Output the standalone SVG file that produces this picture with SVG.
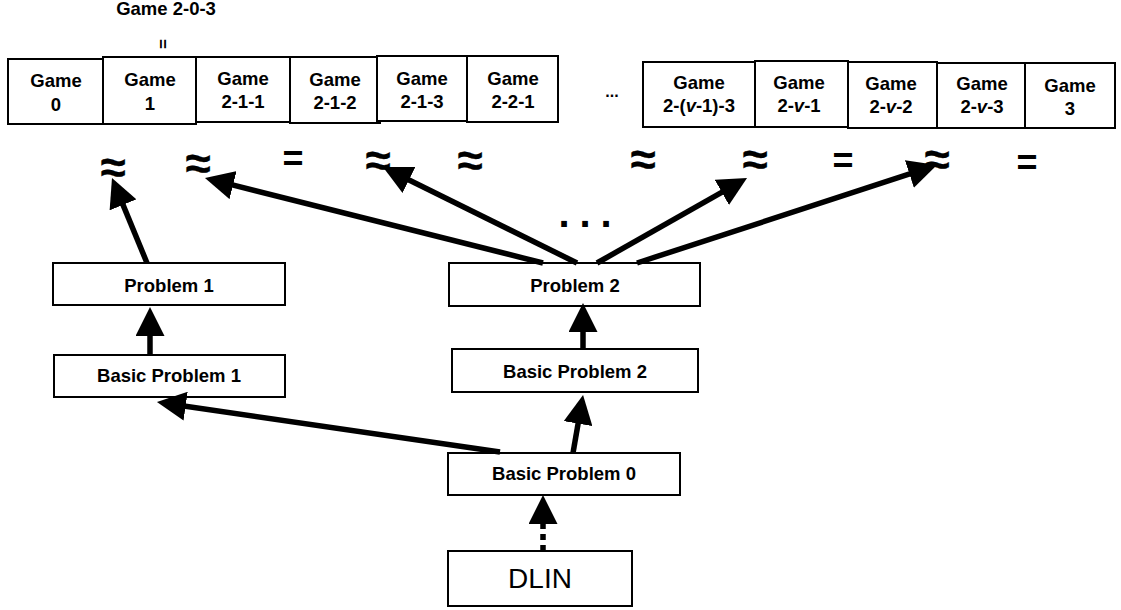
<svg xmlns="http://www.w3.org/2000/svg" width="1121" height="610" viewBox="0 0 1121 610">
<style>
.box{fill:#fff;stroke:#000;stroke-width:2}
.t{font-family:"Liberation Sans",Arial,sans-serif;font-weight:bold;font-size:18.5px;text-anchor:middle;fill:#000}
.ap{font-family:"Liberation Sans",Arial,sans-serif;font-weight:bold;font-size:46px;text-anchor:middle;fill:#000;stroke:#000;stroke-width:0.3}
.eq{font-family:"Liberation Sans",Arial,sans-serif;font-weight:bold;font-size:36px;text-anchor:middle;fill:#000}
.arr{stroke:#000;stroke-width:5.5;fill:none;marker-end:url(#ah)}
.dot{stroke:#000;stroke-width:5.5;fill:none;stroke-dasharray:6 5;marker-end:url(#ah)}
</style>
<defs>
<marker id="ah" markerUnits="userSpaceOnUse" markerWidth="29" markerHeight="29" viewBox="0 0 29 29" refX="14" refY="14.5" orient="auto">
<path d="M0,0 L29,14.5 L0,29 z" fill="#000"/>
</marker>
</defs>
<rect width="1121" height="610" fill="#fff"/>

<g id="label-game203">
<text class="t" x="166" y="15">Game 2-0-3</text>
<text class="t" x="0" y="0" style="font-size:17px" transform="translate(162,44) rotate(90)" dy="5">=</text>
</g>

<g id="game0"><rect class="box" x="8" y="59" width="95" height="65"/><text class="t" x="56" y="87">Game</text><text class="t" x="56" y="111">0</text></g>
<g id="game1"><rect class="box" x="103" y="57" width="93" height="67"/><text class="t" x="150" y="86">Game</text><text class="t" x="150" y="110">1</text></g>
<g id="game211"><rect class="box" x="196" y="57" width="94" height="65"/><text class="t" x="243" y="85">Game</text><text class="t" x="243" y="108">2-1-1</text></g>
<g id="game212"><rect class="box" x="290" y="57" width="90" height="66"/><text class="t" x="335" y="86">Game</text><text class="t" x="335" y="109">2-1-2</text></g>
<g id="game213"><rect class="box" x="377" y="56" width="90" height="65"/><text class="t" x="422" y="85">Game</text><text class="t" x="422" y="108">2-1-3</text></g>
<g id="game221"><rect class="box" x="467" y="56" width="91" height="66"/><text class="t" x="513" y="85">Game</text><text class="t" x="513" y="108">2-2-1</text></g>
<g id="ellipsis-top"><text class="t" x="612" y="97" style="font-size:16px">...</text></g>
<g id="game2v13"><rect class="box" x="643" y="62" width="112" height="65"/><text class="t" x="699" y="89">Game</text><text class="t" x="699" y="112">2-(<tspan font-style="italic">v</tspan>-1)-3</text></g>
<g id="game2v1"><rect class="box" x="755" y="61" width="93" height="66"/><text class="t" x="799" y="89">Game</text><text class="t" x="799" y="112">2-<tspan font-style="italic">v</tspan>-1</text></g>
<g id="game2v2"><rect class="box" x="848" y="62" width="89" height="66"/><text class="t" x="891" y="90">Game</text><text class="t" x="891" y="113">2-<tspan font-style="italic">v</tspan>-2</text></g>
<g id="game2v3"><rect class="box" x="937" y="63" width="88" height="65"/><text class="t" x="982" y="90">Game</text><text class="t" x="982" y="113">2-<tspan font-style="italic">v</tspan>-3</text></g>
<g id="game3"><rect class="box" x="1025" y="63" width="90" height="65"/><text class="t" x="1070" y="92">Game</text><text class="t" x="1070" y="115">3</text></g>

<g id="relations">
<text class="ap" x="113" y="183">≈</text>
<text class="ap" x="198" y="179">≈</text>
<text class="eq" x="293" y="171">=</text>
<text class="ap" x="378" y="176">≈</text>
<text class="ap" x="470" y="176">≈</text>
<text class="ap" x="643" y="175">≈</text>
<text class="ap" x="755" y="175">≈</text>
<text class="eq" x="843" y="173">=</text>
<text class="ap" x="937" y="175">≈</text>
<text class="eq" x="1027" y="175">=</text>
</g>

<g id="ellipsis-mid"><text class="t" style="font-size:40px" x="564 585 606" y="227">...</text></g>

<g id="problem1"><rect class="box" x="53" y="263" width="232" height="42"/><text class="t" x="169" y="292">Problem 1</text></g>
<g id="basic1"><rect class="box" x="54" y="355" width="231" height="42"/><text class="t" x="169" y="382">Basic Problem 1</text></g>
<g id="problem2"><rect class="box" x="449" y="263" width="251" height="43"/><text class="t" x="575" y="292">Problem 2</text></g>
<g id="basic2"><rect class="box" x="452" y="349" width="246" height="43"/><text class="t" x="575" y="378">Basic Problem 2</text></g>
<g id="basic0"><rect class="box" x="448" y="453" width="232" height="42"/><text class="t" x="564" y="480">Basic Problem 0</text></g>
<g id="dlin"><rect class="box" x="448" y="551" width="184" height="55"/><text x="540" y="588" font-family="Liberation Sans, Arial, sans-serif" font-size="28" text-anchor="middle">DLIN</text></g>

<g id="connectors">
<line class="arr" x1="147" y1="263" x2="117.7" y2="191.9"/>
<line class="arr" x1="543" y1="263" x2="219.5" y2="181.7"/>
<line class="arr" x1="577" y1="263" x2="396.4" y2="173.7"/>
<line class="arr" x1="597" y1="263" x2="734" y2="185.4"/>
<line class="arr" x1="637" y1="263" x2="922.7" y2="169.7"/>
<line class="arr" x1="150" y1="355" x2="150" y2="322"/>
<line class="arr" x1="583" y1="349" x2="583" y2="318"/>
<line class="arr" x1="573" y1="453" x2="580.5" y2="409.8"/>
<line class="arr" x1="500" y1="452" x2="171.8" y2="404.2"/>
<line class="dot" x1="543" y1="551" x2="543" y2="510"/>
</g>
</svg>
